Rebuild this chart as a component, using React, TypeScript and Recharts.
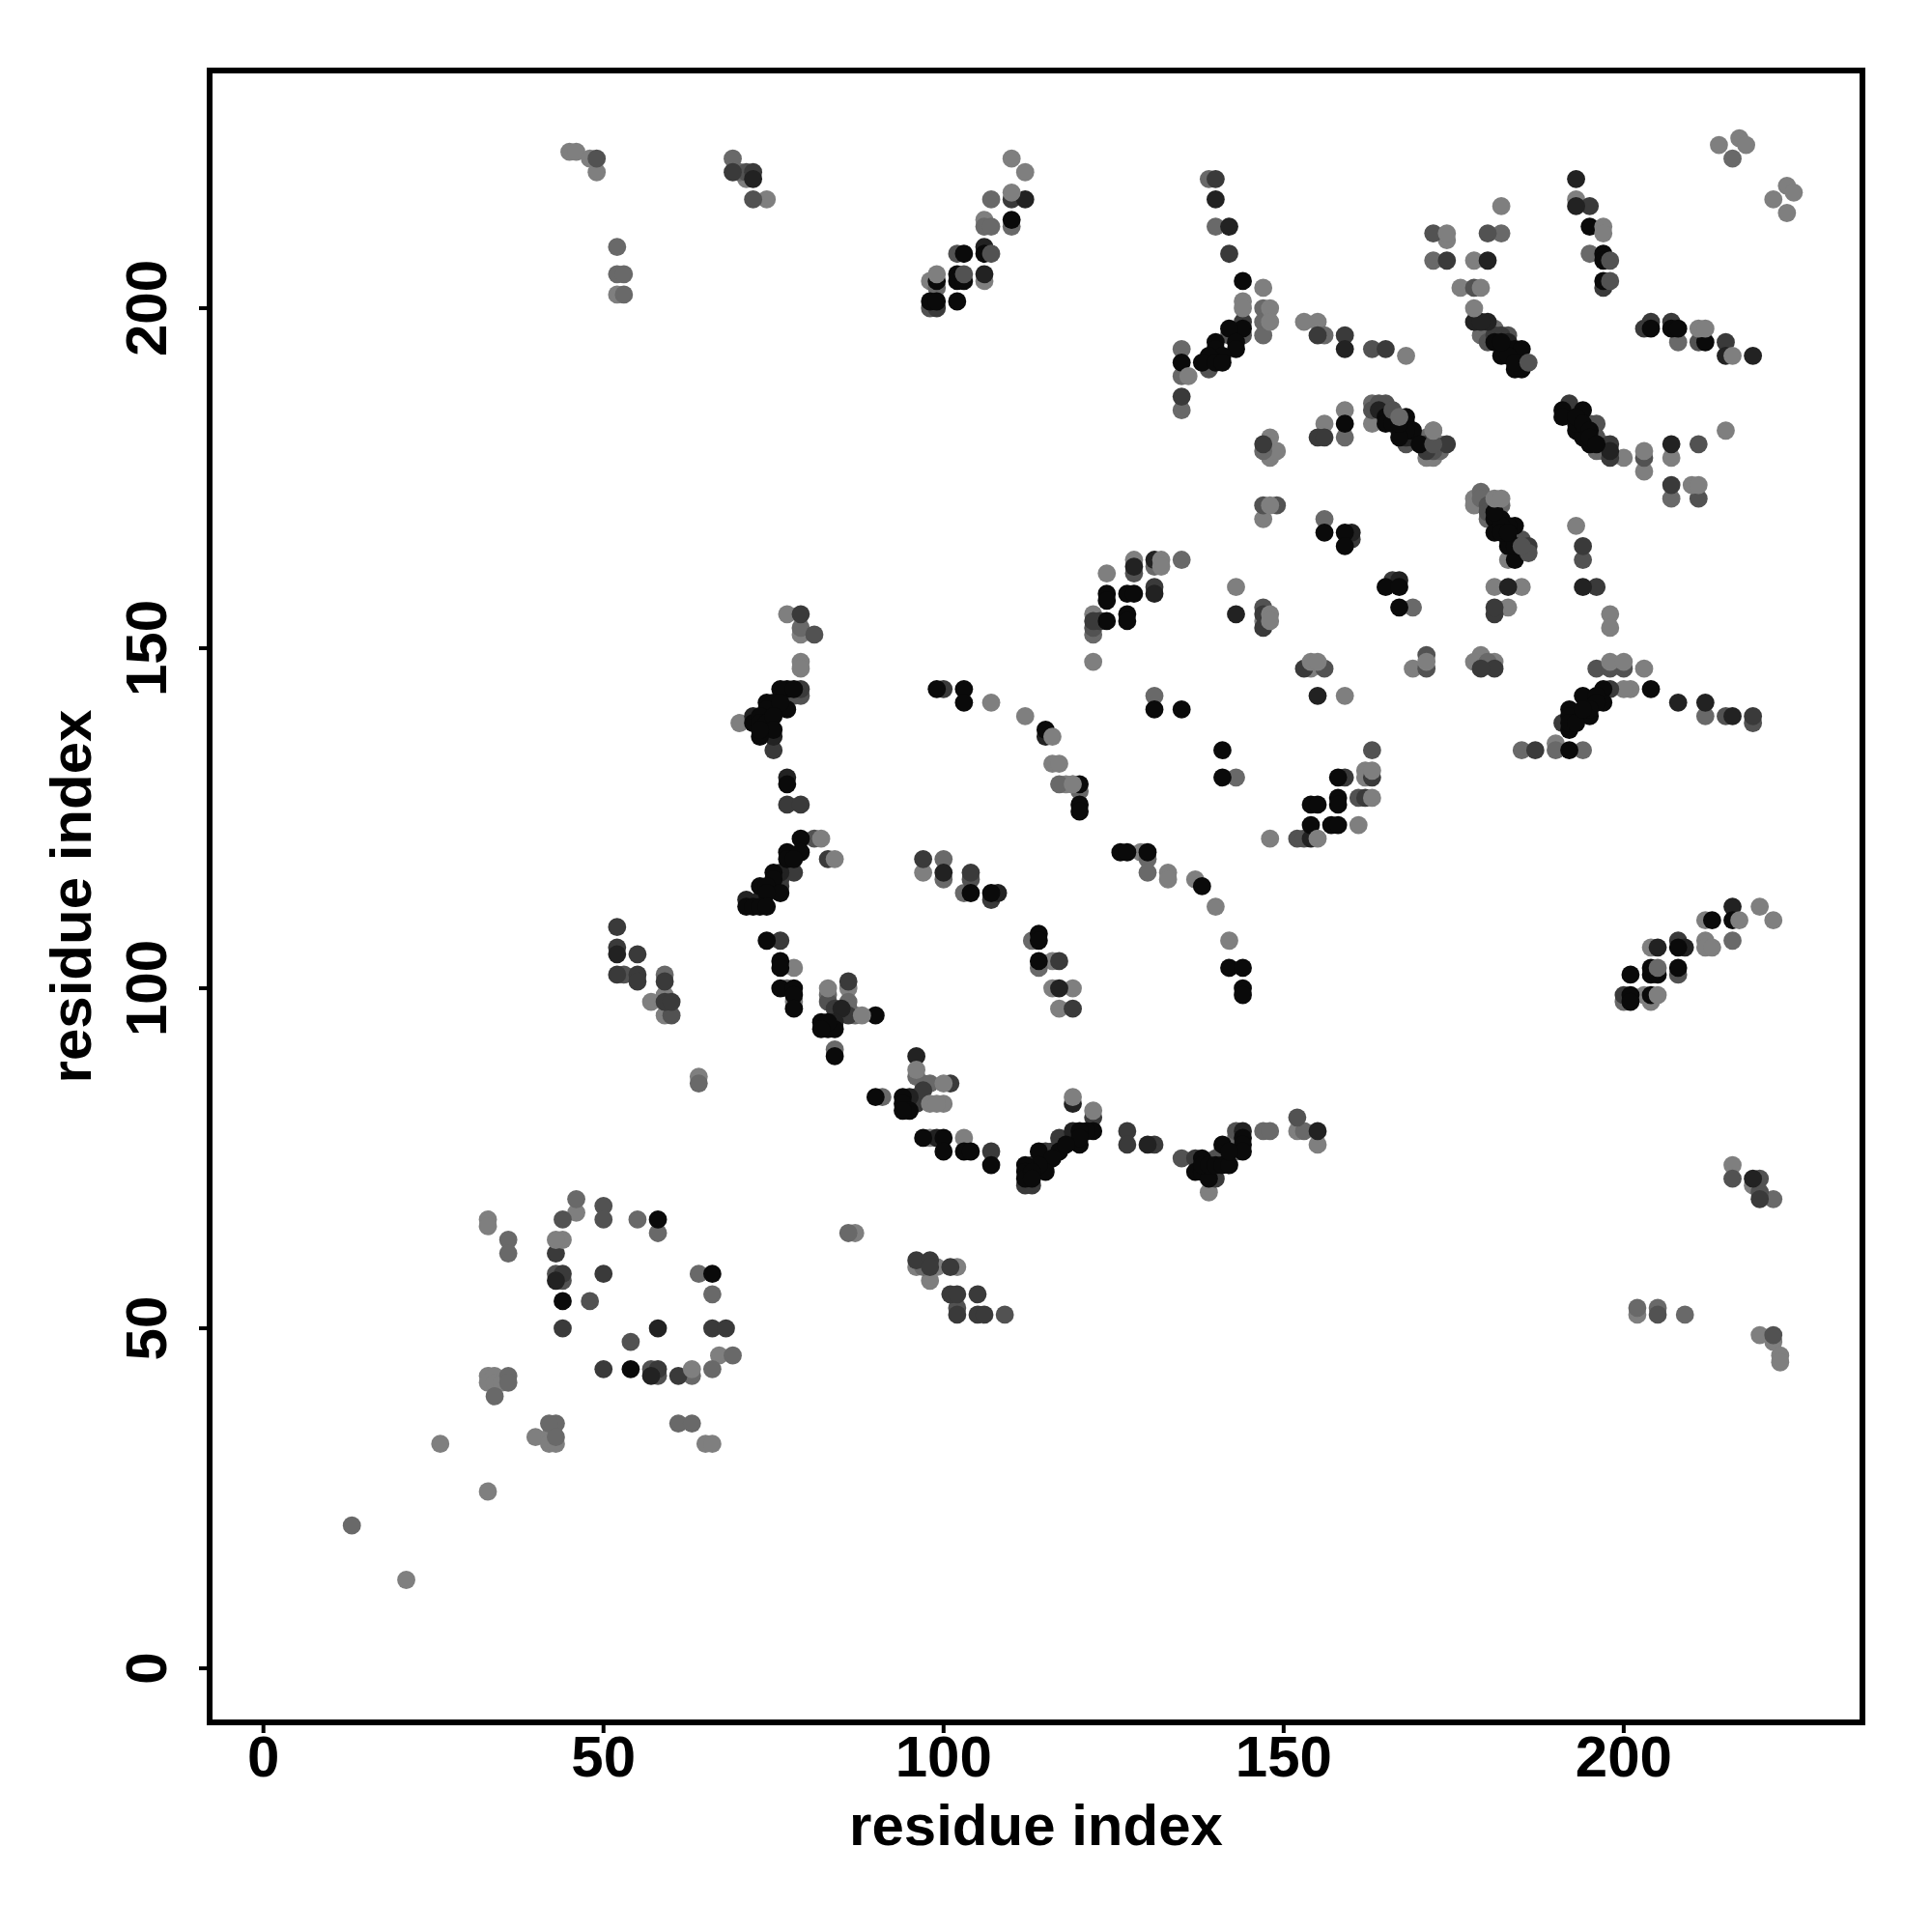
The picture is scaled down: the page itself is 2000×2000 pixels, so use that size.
import { ReferenceArea, Scatter, ScatterChart, XAxis, YAxis } from 'recharts'

type Pt = [number, number]

const tickValues = [0, 50, 100, 150, 200]
const axisTitle = 'residue index'
const xDomain: [number, number] = [-7.91, 235.1]
const yDomain: [number, number] = [-7.95, 234.95]

// contacts grouped by grey level, drawn lightest first
const grey7f: Pt[] = [
  [45,223],[46,223],[48,222],[49,220],[52,202],[71,219],[74,216],[110,222],[112,220],[106,213],[98,204],[106,204],
  [182,215],[174,210],[178,207],[176,203],[147,203],[153,198],[155,198],[168,193],
  [214,224],[217,225],[218,224],[224,218],[225,217],[222,216],[224,214],
  [200,178],[203,176],[207,178],[215,182],[178,172],[178,171],[183,163],
  [181,159],[185,159],[183,156],[193,168],[198,155],[198,153],
  [169,147],[179,149],[178,148],[181,148],[201,144],[200,144],[190,136],
  [147,169],[128,163],[124,161],[122,155],[122,148],[143,159],[147,154],[154,147],[159,143],[162,132],[162,131],[161,124],[148,122],[129,120],[133,117],[118,130],[119,130],
  [133,116],[137,116],[140,112],[142,107],[155,77],[152,79],[139,70],
  [77,155],[79,152],[79,148],[79,147],[70,139],[97,117],[78,103],[78,98],[86,100],[98,78],[103,78],
  [107,142],[112,140],[116,133],[117,133],[116,104],[116,100],[119,100],[117,97],
  [87,64],[96,59],[99,59],[102,59],[98,57],[57,98],[59,99],[59,96],[64,87],
  [33,66],[33,65],[46,67],[33,43],[33,42],[34,43],[34,42],[35,42],[40,34],[42,34],[42,33],[43,33],[65,33],[66,33],[33,26],[26,33],[21,13],[67,46],
  [216,74],[219,71],[220,49],[222,48],[223,46],[223,45],[202,52],[220,112],[222,110],[212,110],[212,107],[212,106],[213,106],[204,106],[203,99],[204,98],
  [156,183],[159,185],[163,183],[172,182],[173,180],[171,178],[172,178],[148,178],[149,179],[148,181],[193,216],
]

const grey69: Pt[] = [
  [69,222],[70,220],[52,209],[52,205],[53,205],[53,202],[107,216],[106,212],[107,212],[110,212],[99,203],
  [140,212],[139,219],[147,200],[147,198],[147,196],[135,194],[135,190],[135,185],[156,196],[172,207],[182,211],[179,196],[181,197],
  [195,208],[216,222],[208,195],[179,173],[179,172],[181,171],[180,169],[207,172],[180,148],[212,140],[185,135],[190,135],[194,135],
  [156,169],[169,156],[131,143],[143,131],[135,163],[131,162],[122,152],[130,119],[130,117],[120,129],[79,153],[100,116],[100,119],[103,114],[113,107],[114,103],[117,130],
  [83,99],[86,98],[86,97],[87,96],[96,87],[97,86],[98,86],[91,84],[84,91],[77,100],[143,78],[143,76],[147,79],[148,79],[153,79],
  [36,63],[36,61],[34,40],[36,43],[36,42],[43,36],[42,36],[43,34],[55,66],[58,64],[64,58],[66,55],[69,46],[66,44],[63,43],[61,36],[63,36],[46,69],
  [59,102],[64,86],[97,59],[86,64],[202,53],[205,53],[209,52],[222,69],[216,107],[200,98],[13,21],
  [159,181],[171,181],[172,180],[173,179],[163,186],[167,184],[147,179],[196,179],[197,180],[197,179],[182,171],
]

const grey52: Pt[] = [
  [49,222],[72,216],[71,220],[102,208],[163,194],[172,211],[180,211],[178,203],[144,196],[142,196],[139,191],
  [183,196],[185,166],[195,183],[196,183],[203,178],[211,180],[211,195],[211,172],[194,163],[196,147],[198,147],[200,147],
  [171,149],[171,147],[147,171],[147,156],[122,153],[128,161],[163,135],[161,128],[152,122],[153,122],
  [81,152],[81,122],[79,143],[78,143],[104,116],[83,98],[152,81],[135,75],[140,75],[141,76],[143,79],
  [53,102],[60,96],[44,66],[50,68],[50,66],[43,58],[44,57],[48,54],[54,48],[57,44],[58,43],
  [102,53],[109,52],[205,52],[208,102],[220,72],[222,49],[215,140],[219,139],[180,195],[165,186],[164,186],[163,185],[166,185],[168,180],
  [98,200],[216,72],[220,70],[196,181],[180,171],[180,170],[184,166],[172,179],
]

const grey3a: Pt[] = [
  [72,220],[69,220],[110,216],[140,219],[142,208],[144,198],[155,196],[159,196],[165,194],[135,187],[174,207],
  [195,215],[197,203],[182,196],[203,197],[204,198],[207,198],[208,107],[215,195],[192,186],[192,185],[198,180],[198,178],
  [207,174],[194,165],[196,159],[186,165],[198,144],[193,140],[181,147],[179,147],[187,135],[191,139],[181,155],[181,156],
  [147,153],[147,155],[153,147],[166,160],[160,166],[131,159],[123,154],[122,154],[163,131],[159,131],[162,128],
  [79,155],[79,144],[75,135],[97,119],[104,117],[107,113],[76,107],[77,127],[79,127],[83,119],[78,117],[76,115],[76,116],
  [52,109],[52,106],[55,105],[52,102],[55,102],[55,101],[59,101],[59,98],[60,98],
  [86,101],[84,97],[86,96],[96,84],[96,83],[101,86],[97,85],[107,76],[122,81],[127,79],[127,77],[131,77],[137,75],[115,74],[116,76],[115,76],[117,78],[112,71],[113,71],[140,72],
  [101,59],[101,55],[102,55],[105,55],[96,60],[98,60],[98,59],[102,52],[105,52],[106,52],[174,180],[171,180],[147,180],[155,181],[156,181],
  [44,58],[44,50],[50,44],[61,43],[66,50],[68,50],[50,58],[58,44],[43,61],[200,99],[219,140],
  [99,200],[100,144],[117,104],[119,97],[220,69],[181,196],[171,179],
]

const grey22: Pt[] = [
  [72,219],[112,216],[106,209],[106,205],[140,216],[142,212],[159,194],[180,207],[193,219],[193,215],[215,193],[219,193],[207,180],[183,159],[194,159],[208,142],[212,142],[216,140],[155,143],[143,155],
  [131,158],[128,162],[131,163],[154,122],[77,131],[71,113],[72,140],[73,113],[75,137],[76,117],
  [100,117],[115,137],[108,114],[96,90],[85,97],[84,95],[95,84],[99,78],[119,78],[119,79],[113,74],[130,77],[144,79],[155,79],
  [205,106],[209,106],[216,112],[219,72],[52,105],[43,57],[58,50],[57,43],[180,198],[178,198],[179,198],[160,167],[167,160],
  [117,100],[119,83],[164,185],[169,181],[198,179],[183,195],[168,181],[167,182],
]

const grey0a: Pt[] = [
  [99,204],[98,201],[99,201],[102,205],[102,204],[103,204],[102,201],[103,208],[106,208],[110,213],
  [144,204],[144,197],[142,197],[143,195],[143,194],[140,195],[140,194],[141,193],[139,193],[138,192],[140,192],[141,192],[135,192],[159,183],
  [181,195],[182,193],[183,194],[184,194],[185,194],[184,191],[185,191],[183,193],[184,192],[182,195],[195,212],[197,208],[197,207],[197,204],
  [204,197],[207,197],[208,197],[212,195],[191,185],[191,184],[194,185],[193,182],[194,182],[194,181],[193,183],[195,180],
  [193,184],[194,183],[195,182],[195,181],[196,180],
  [181,169],[182,169],[184,168],[183,168],[181,167],[182,168],[183,166],[183,165],[184,163],[181,170],[184,165],[182,167],[183,167],
  [204,144],[197,144],[194,143],[197,142],[196,143],[195,140],[192,141],[192,140],[192,138],[192,139],[193,139],[196,142],[195,141],[194,141],[192,135],
  [156,167],[159,167],[159,165],[165,159],[167,159],[167,156],[124,158],[124,157],[127,158],[128,158],[124,154],[127,155],[127,154],
  [131,141],[135,141],[141,135],[141,131],[158,131],[158,128],[158,127],[154,127],[155,127],[154,124],[157,124],[158,124],
  [126,120],[127,120],[130,120],[120,130],[120,127],[120,126],[138,115],[142,103],[144,103],[144,100],[144,99],
  [122,79],[121,79],[120,77],[138,75],[137,73],[138,73],[139,72],[138,74],[139,74],[140,74],[141,77],[141,74],[142,74],[144,78],[144,77],[144,76],[142,76],
  [74,107],[76,104],[76,103],[76,100],[78,100],[78,99],[78,97],[82,95],[83,94],[84,94],[83,95],[82,94],[84,90],[90,96],
  [90,84],[94,84],[94,83],[95,82],[94,82],[97,78],[100,78],[100,76],[103,76],[104,76],[107,74],
  [120,79],[120,78],[117,76],[118,77],[114,76],[116,75],[115,73],[114,74],[112,74],[112,73],[112,72],[113,73],[113,72],
  [77,144],[76,144],[78,144],[77,141],[74,142],[75,142],[74,141],[76,142],[72,139],[73,140],[73,139],[74,139],[75,140],[75,138],[73,137],[73,138],
  [77,130],[79,122],[77,120],[79,120],[77,119],[78,119],[75,117],[75,116],[73,115],[74,115],[76,114],[74,114],[71,112],[72,112],[73,112],[74,112],
  [99,144],[103,144],[103,142],[115,138],[104,114],[107,114],[114,108],[114,107],[114,104],
  [165,184],[165,183],[168,184],[168,183],[169,182],[168,182],[167,181],[166,183],[167,183],[170,180],
  [58,66],[66,58],[44,54],[54,44],[216,110],[213,110],[208,106],[201,102],[204,103],[204,102],[205,102],[208,103],[201,99],[201,98],[204,99],
]

// lighter contacts that sit on top of the dark ones
const topGrey52: Pt[] = [
  [103,205],[107,208],[186,164],[185,165],[198,207],[198,204],[156,147],[186,192],[149,171],[166,185],[172,180],
]

const topGrey69: Pt[] = [[205,103],[167,184]]

const topGrey7f: Pt[] = [
  [110,217],[99,205],[197,212],[197,211],[211,197],[212,197],[216,193],[181,172],[182,172],[203,179],[210,174],[211,174],
  [116,137],[155,122],[163,132],[163,128],[148,155],[148,154],[154,148],[155,148],[84,119],[82,122],[100,83],[98,83],[99,83],[88,96],[119,84],[122,82],[100,86],
  [63,44],[44,63],[43,63],[205,99],[217,110],[203,147],[198,148],[200,148],[174,211],[144,201],[144,200],[148,200],[148,198],[136,190],[132,163],[132,162],
  [179,203],[171,148],[148,171],[83,100],[96,88],[178,200],[119,130],[172,182],
]

const layers: { points: Pt[]; fill: string }[] = [
  { points: grey7f, fill: '#7f7f7f' },
  { points: grey69, fill: '#696969' },
  { points: grey52, fill: '#525252' },
  { points: grey3a, fill: '#3a3a3a' },
  { points: grey22, fill: '#222222' },
  { points: grey0a, fill: '#0a0a0a' },
  { points: topGrey52, fill: '#525252' },
  { points: topGrey69, fill: '#696969' },
  { points: topGrey7f, fill: '#7f7f7f' },
]

const font = { fontFamily: '"Liberation Sans", Arial, sans-serif', fontWeight: 700, fontSize: 60, fill: '#000' }

function YTick({ x, y, payload }: any) {
  return (
    <text x={x} y={y} transform={`rotate(-90 ${x} ${y})`} textAnchor="middle" style={font}>
      {payload.value}
    </text>
  )
}

export default function App() {
  return (
    <div style={{ position: 'absolute', left: 0, top: 0, background: '#fff' }}>
      <ScatterChart width={2000} height={2000} margin={{ top: 73, right: 72, bottom: 67, left: 67 }}>
        <XAxis
          type="number"
          dataKey="x"
          domain={xDomain}
          ticks={tickValues}
          interval={0}
          allowDataOverflow
          height={150}
          axisLine={false}
          tickSize={11}
          tickLine={{ stroke: '#000', strokeWidth: 4 }}
          tickMargin={2}
          tick={font}
          label={{ value: axisTitle, position: 'insideBottom', offset: 23, style: font }}
        />
        <YAxis
          type="number"
          dataKey="y"
          domain={yDomain}
          ticks={tickValues}
          interval={0}
          allowDataOverflow
          width={150}
          axisLine={false}
          tickSize={11}
          tickLine={{ stroke: '#000', strokeWidth: 4 }}
          tickMargin={34}
          tick={<YTick />}
          label={{ value: axisTitle, angle: -90, position: 'insideLeft', offset: 6, style: { ...font, textAnchor: 'middle' } }}
        />
        <ReferenceArea x1={xDomain[0]} x2={xDomain[1]} y1={yDomain[0]} y2={yDomain[1]} fill="none" stroke="#000" strokeWidth={6} />
        {layers.map((layer, i) => (
          <Scatter
            key={i}
            data={layer.points.map(([x, y]) => ({ x, y }))}
            isAnimationActive={false}
            shape={(p: any) => <circle cx={p.cx} cy={p.cy} r={9.4} fill={layer.fill} />}
          />
        ))}
      </ScatterChart>
    </div>
  )
}
